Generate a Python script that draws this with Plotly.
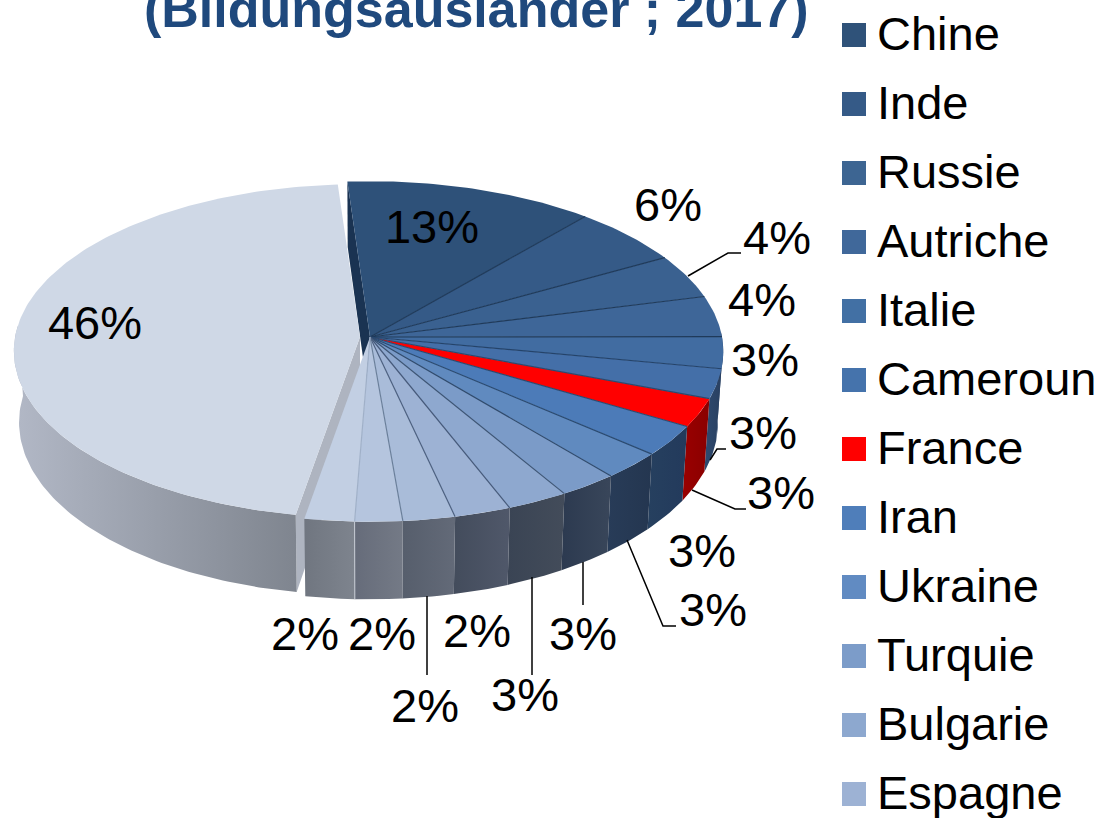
import math
import plotly.graph_objects as go

# ---- data ----
LEGEND_NAMES = ["Chine", "Inde", "Russie", "Autriche", "Italie", "Cameroun", "France",
                "Iran", "Ukraine", "Turquie", "Bulgarie", "Espagne"]
SHARES = [12.4, 5.6, 4.2, 3.9, 3.0, 2.8, 2.7, 2.9, 2.6, 2.5, 2.6, 2.4, 2.2, 2.0, 2.1, 46.2]
LABELS = ["13%", "6%", "4%", "4%", "3%", "3%", "3%", "3%", "3%", "3%", "3%",
          "2%", "2%", "2%", "2%", "46%"]
TITLE = "(Bildungsausländer ; 2017)"

# ---- styles ----
TOP = ["#2E5179", "#355A87", "#3A6190", "#3E6698", "#416CA1", "#446FA8", "#FF0000", "#4C7BB8",
       "#608ABF", "#7B9BC8", "#8EA8CF", "#9DB2D4", "#A9BCD9", "#B5C5DE", "#C2CFE3", "#CFD8E6"]
LEGEND_COL = ["#2F5279", "#355A87", "#3D6592", "#40689A", "#4270A4", "#4573AC", "#FF0000", "#4F7EBA",
              "#618BC2", "#7C9CC9", "#8DA8CF", "#9DB2D4"]
WALL = [("#2A4060", "#2A4060"), ("#2A4060", "#2A4060"), ("#2A4060", "#2A4060"), ("#2A4060", "#2A4060"),
        ("#2B4466", "#2F4B72"), ("#2A4060", "#2E4A70"), ("#8A0000", "#9A0000"), ("#233A5C", "#26405F"),
        ("#243650", "#283C58"), ("#39465A", "#2C3A50"), ("#434C5A", "#3A4454"), ("#50586A", "#434C5C"),
        ("#636A78", "#565E6C"), ("#747A86", "#666C7A"), ("#7E848E", "#707680"), ("#B2B8C6", "#7F858F")]
SEP = ["#1F3A5A", "#1F3A5A", "#1F3A5A", "#1F3A5A", "#24436A", "#2A4A70", "#2A4A70", "#2A4A70",
       "#2F4A6C", "#3C5474", "#45597A", "#4C6080", "#6A7F9A", "#A0B0C8"]
TEXT_POS = [(432, 231), (668, 209), (777, 242), (762, 304), (765, 364), (763, 437), (781, 497),
            (702, 555), (713, 614), (583, 638), (525, 699), (477, 635), (425, 710), (382, 638),
            (305, 638), (95, 327)]
LEADERS = [[(688, 276), (728, 253), (741, 253)],
           [(710, 460), (717, 449), (726, 449)],
           [(692, 490), (735, 509), (746, 509)],
           [(627, 540), (663, 626), (676, 626)],
           [(583, 562), (583, 605)],
           [(532, 577), (532, 675)],
           [(427, 596), (427, 675)]]

CX, CY, A, B, P, DEPTH, SHRINK = 370, 337, 352, 169, 0.085, 71, 0.985
START = -4.0
STEP = 1.0


def top_pt(a, ox=0, oy=0, k=1.0):
    r = math.radians(a)
    u, v = math.sin(r) * k, -math.cos(r) * k
    w = 1 / (1 - P * v)
    return CX + ox + A * u * w, CY + oy + B * v * w


def low_pt(a, ox=0, oy=0, k=1.0):
    x, y = top_pt(a, ox, oy, k)
    v = -math.cos(math.radians(a)) * k
    w = 1 / (1 - P * v)
    return CX + ox + (x - CX - ox) * SHRINK, y + DEPTH * w


def arc(a0, a1):
    n = max(2, int(abs(a1 - a0) / STEP) + 1)
    return [a0 + (a1 - a0) * i / (n - 1) for i in range(n)]


def poly(pts, color, gradient=None):
    xs = [p[0] for p in pts] + [pts[0][0]]
    ys = [p[1] for p in pts] + [pts[0][1]]
    kw = {}
    if gradient:
        kw["fillgradient"] = dict(type="horizontal", colorscale=[[0, gradient[0]], [1, gradient[1]]])
    else:
        kw["fillcolor"] = color
    return go.Scatter(x=xs, y=ys, mode="lines", fill="toself", line=dict(width=0),
                      hoverinfo="skip", showlegend=False, **kw)


def wall(a0, a1, grad, ox=0, oy=0, k=1.0):
    angs = arc(a0, a1)
    pts = [top_pt(a, ox, oy, k) for a in angs] + [low_pt(a, ox, oy, k) for a in reversed(angs)]
    return poly(pts, None, grad)


total = sum(SHARES)
bounds = [START]
for s in SHARES:
    bounds.append(bounds[-1] + s / total * 360)

fig = go.Figure()

# exploded share offset
OX, OY, OK = -10, 0, 0.98
last = len(SHARES) - 1

# back cut face of the body (dark sliver beside the first slice)
a = bounds[0]
rim, rim_low = top_pt(a), low_pt(a)
fig.add_trace(poly([(CX, CY), rim, rim_low, (CX, CY + DEPTH)], "#1A3352"))

# exploded slice: cut face, wall, top
a = bounds[last]
rim, rim_low = top_pt(a, OX, OY, OK), low_pt(a, OX, OY, OK)
fig.add_trace(poly([(CX + OX, CY + OY), rim, rim_low, (CX + OX, CY + OY + DEPTH)], "#AEB4C0"))
fig.add_trace(wall(a, 274, WALL[last], OX, OY, OK))
angs = arc(bounds[last], bounds[last + 1])
fig.add_trace(poly([(CX + OX, CY + OY)] + [top_pt(t, OX, OY, OK) for t in angs], TOP[last]))

# body walls (only the part facing the viewer)
for i in range(last):
    a0, a1 = max(bounds[i], 88), bounds[i + 1]
    if a1 > a0:
        fig.add_trace(wall(a0, a1, (WALL[i][1], WALL[i][0])))
# thin light seam on the front wall
sa = bounds[14]
p0, p1 = top_pt(sa), low_pt(sa)
fig.add_trace(go.Scatter(x=[p0[0], p1[0]], y=[p0[1], p1[1]], mode="lines",
                         line=dict(color="#C5CAD3", width=1), hoverinfo="skip", showlegend=False))

# body tops
for i in range(last):
    angs = arc(bounds[i], bounds[i + 1])
    fig.add_trace(poly([(CX, CY)] + [top_pt(t) for t in angs], TOP[i]))

# separators
for i in range(1, last):
    p = top_pt(bounds[i])
    fig.add_trace(go.Scatter(x=[CX, p[0]], y=[CY, p[1]], mode="lines",
                             line=dict(color=SEP[i - 1], width=1.2), hoverinfo="skip", showlegend=False))

# data labels
fig.add_trace(go.Scatter(x=[p[0] for p in TEXT_POS], y=[p[1] for p in TEXT_POS], mode="text",
                         text=LABELS, textposition="middle center",
                         textfont=dict(family="Liberation Sans", size=47, color="#000000"),
                         hoverinfo="skip", showlegend=False))

# legend
ly = [35 + 69 * i for i in range(len(LEGEND_NAMES))]
fig.add_trace(go.Scatter(x=[854] * len(ly), y=ly, mode="markers",
                         marker=dict(symbol="square", size=24, color=LEGEND_COL, line=dict(width=0)),
                         hoverinfo="skip", showlegend=False))
fig.add_trace(go.Scatter(x=[877] * len(ly), y=[v + 3 for v in ly], mode="text", text=LEGEND_NAMES,
                         textposition="middle right",
                         textfont=dict(family="Liberation Sans", size=47, color="#000000"),
                         hoverinfo="skip", showlegend=False))

shapes = []
for pts in LEADERS:
    path = "M " + " L ".join(f"{x},{y}" for x, y in pts)
    shapes.append(dict(type="path", path=path, xref="x", yref="y",
                       line=dict(color="#000000", width=1.5)))

fig.update_layout(
    width=1102, height=818, margin=dict(l=0, r=0, t=0, b=0),
    paper_bgcolor="#FFFFFF", plot_bgcolor="#FFFFFF", showlegend=False, shapes=shapes,
    xaxis=dict(range=[0, 1102], visible=False, fixedrange=True),
    yaxis=dict(range=[818, 0], visible=False, fixedrange=True),
    annotations=[dict(x=476, y=9, xref="x", yref="y", text=TITLE, showarrow=False,
                      xanchor="center", yanchor="middle",
                      font=dict(family="Liberation Sans", size=52, weight="bold", color="#1F497D"))],
)
fig.write_html("out.html", config={"displayModeBar": False},
               post_script="document.body.style.margin='0';document.documentElement.style.overflow='hidden';")
